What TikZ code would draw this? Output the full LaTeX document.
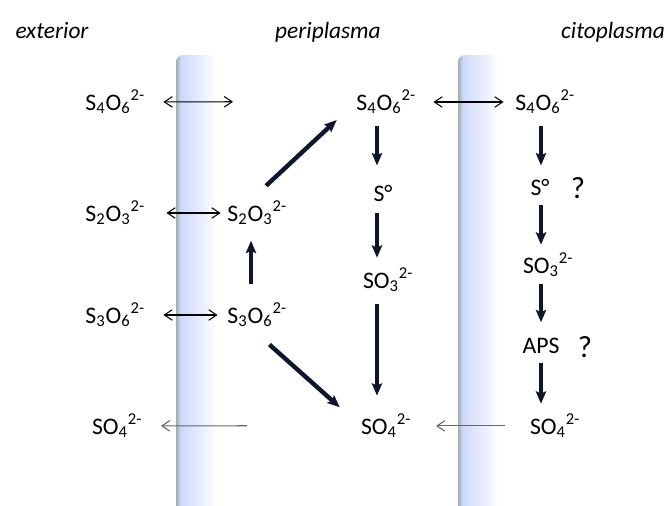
\documentclass[tikz,border=0pt]{standalone}
\usepackage{fontspec}
\setmainfont{Carlito}
\usetikzlibrary{arrows.meta}
\definecolor{memblue}{RGB}{204,216,250}
\definecolor{memedge}{RGB}{146,166,154}
\definecolor{arrowink}{RGB}{14,22,44}
\newcommand{\chg}{\rlap{\textsuperscript{2-}}}
\tikzset{
  ion/.style={inner sep=0pt, anchor=base, font=\fontsize{13.5}{16}\selectfont},
  region/.style={inner sep=0pt, anchor=base, font=\fontsize{13.3}{16}\selectfont\itshape},
  qmark/.style={inner sep=0pt, anchor=base, font=\fontsize{17.5}{20}\selectfont},
  fatarrow/.style={-{Stealth[length=7pt,width=5.8pt,inset=1.2pt]}, line width=2.5pt, draw=arrowink},
  exchange/.style={{Straight Barb[length=4.5pt,width=6pt]}-{Straight Barb[length=4.5pt,width=6pt]}, line width=0.6pt},
  leak/.style={-{Straight Barb[length=4.5pt,width=6pt]}, line width=0.6pt, draw=black!60},
  gaps/.style 2 args={shorten <=#1*0.02cm, shorten >=#2*0.02cm}
}

\begin{document}
\begin{tikzpicture}[x=0.02cm, y=-0.02cm]
  \path[use as bounding box, fill=white] (0,0) rectangle (666,505);

  % membranes
  \foreach \mx in {176,458}{
    \begin{scope}
      \clip[rounded corners=4pt] (\mx,520) -- (\mx,55) -- (\mx+40,55) -- (\mx+40,520) -- cycle;
      \shade[left color=memblue, middle color=memblue!85!white, right color=white] (\mx+4,50) rectangle (\mx+41,520);
      \shade[left color=memedge, right color=memblue] (\mx-1,50) rectangle (\mx+4.5,520);
    \end{scope}
  }

  \node[region] (extlbl) at (52,38) {exterior};
  \node[region] (perilbl) at (328,38) {periplasma};
  \node[region] (citlbl) at (613,38) {citoplasma};

  \coordinate (periaxis) at (377,0);
  \coordinate (ciaxis) at (541,0);
  \coordinate (upaxis) at (251,0);

  \node[ion] (exS4) at (108,110) {S\textsubscript{4}O\textsubscript{6}\chg};
  \node[ion] (exS2) at (108,221) {S\textsubscript{2}O\textsubscript{3}\chg};
  \node[ion] (exS3) at (108,323) {S\textsubscript{3}O\textsubscript{6}\chg};
  \node[ion] (exSO4) at (110,434) {SO\textsubscript{4}\chg};

  \node[ion] (periS2) at (250,221) {S\textsubscript{2}O\textsubscript{3}\chg};
  \node[ion] (periS3) at (250,323) {S\textsubscript{3}O\textsubscript{6}\chg};

  \node[ion] (periS4) at (379,110) {S\textsubscript{4}O\textsubscript{6}\chg};
  \node[ion] (periS0) at (379,201) {S\rlap{°}};
  \node[ion] (periSO3) at (381,288) {SO\textsubscript{3}\chg};
  \node[ion] (periSO4) at (379,434) {SO\textsubscript{4}\chg};

  \node[ion] (ciS4) at (538,110) {S\textsubscript{4}O\textsubscript{6}\chg};
  \node[ion] (ciS0) at (536,195) {S\rlap{°}};
  \node[qmark] (ciQ1) at (578,198) {?};
  \node[ion] (ciSO3) at (541,273) {SO\textsubscript{3}\chg};
  \node[ion] (ciAPS) at (541,353) {APS};
  \node[qmark] (ciQ2) at (585,357) {?};
  \node[ion] (ciSO4) at (548,434) {SO\textsubscript{4}\chg};

  \coordinate (exS4to) at (233,101.75);
  \coordinate (exSO4from) at (247,425.75);

  \draw[exchange, gaps={32.5}{0}] (exS4.east) -- (exS4to);
  \draw[exchange, gaps={31.5}{11.5}] (periS4.east) -- (ciS4.west);
  \draw[exchange, gaps={35.5}{6.5}] (exS2.east) -- (periS2.west);
  \draw[exchange, gaps={32.5}{9.5}] (exS3.east) -- (periS3.west);
  \draw[leak, gaps={0}{32.7}] (exSO4from) -- (exSO4.east);
  \draw[leak, gaps={24.7}{38.7}] (ciSO4.west) -- (periSO4.east);

  \draw[fatarrow, gaps={19}{15.5}] (periS3.north -| upaxis) -- (periS2.south -| upaxis);
  \draw[fatarrow, gaps={22}{26.5}] (periS2.north) -- (periS4.west);
  \draw[fatarrow, gaps={26}{28}] (periS3.south) -- (periSO4.west);

  \draw[fatarrow, gaps={11.5}{19}] (periS4.south -| periaxis) -- (periS0.north -| periaxis);
  \draw[fatarrow, gaps={11}{10}] (periS0.south -| periaxis) -- (periSO3.north -| periaxis);
  \draw[fatarrow, gaps={11.5}{18}] (periSO3.south -| periaxis) -- (periSO4.north -| periaxis);

  \draw[fatarrow, gaps={11.5}{13}] (ciS4.south -| ciaxis) -- (ciS0.north -| ciaxis);
  \draw[fatarrow, gaps={9}{8}] (ciS0.south -| ciaxis) -- (ciSO3.north -| ciaxis);
  \draw[fatarrow, gaps={6.5}{15}] (ciSO3.south -| ciaxis) -- (ciAPS.north -| ciaxis);
  \draw[fatarrow, gaps={9}{10}] (ciAPS.south -| ciaxis) -- (ciSO4.north -| ciaxis);
\end{tikzpicture}
\end{document}
